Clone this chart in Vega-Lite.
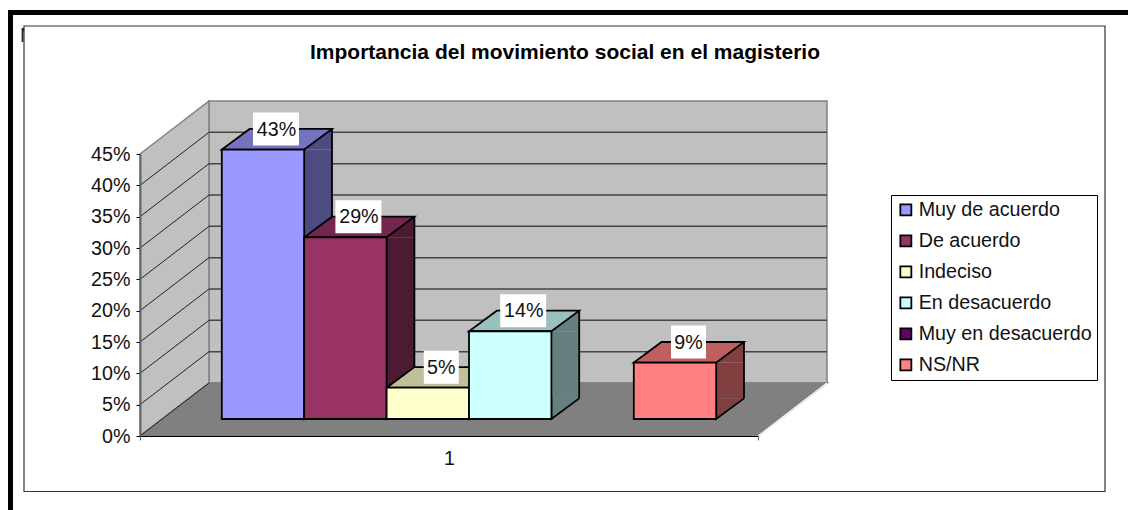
{
"$schema":"https://vega.github.io/schema/vega-lite/v6.json",
"width":618,"height":282,
"autosize":{"type":"none"},
"padding":{"left":140,"top":154,"right":370,"bottom":74},
"background":"white",
"view":{"stroke":null},
"title":{"text":"Importancia del movimiento social en el magisterio","font":"Liberation Sans","fontSize":21,"fontWeight":"bold","color":"#000","anchor":"middle","frame":"group","dx":116,"offset":-53},
"config":{"font":"Liberation Sans"},
"datasets":{
"barras":[
{"serie":"Muy de acuerdo","valor":0.43},
{"serie":"De acuerdo","valor":0.29},
{"serie":"Indeciso","valor":0.05},
{"serie":"En desacuerdo","valor":0.14},
{"serie":"Muy en desacuerdo","valor":0},
{"serie":"NS/NR","valor":0.09}],
"planos":[
{"plano":"fondo","x":0.8374,"y":0.0846,"y2":0.5346},
{"plano":"fondo","x":8.3374,"y":0.0846,"y2":0.5346},
{"plano":"lateral","x":0,"y":0,"y2":0.45},
{"plano":"lateral","x":0.8374,"y":0.0846,"y2":0.5346},
{"plano":"suelo","x":0,"y":0,"y2":0},
{"plano":"suelo","x":0.8374,"y":0,"y2":0.0846},
{"plano":"suelo","x":7.5,"y":0,"y2":0.0846},
{"plano":"suelo","x":8.3374,"y":0.0846,"y2":0.0846}],
"rejilla":[{"pct":0},{"pct":0.05},{"pct":0.1},{"pct":0.15},{"pct":0.2},{"pct":0.25},{"pct":0.3},{"pct":0.35},{"pct":0.4}]
},
"resolve":{"scale":{"x":"independent","fill":"independent"},"axis":{"x":"independent","y":"independent"}},
"layer":[
{"data":{"values":[{"marco":"exterior"}]},"mark":{"type":"rect","fill":"white","stroke":"#000","strokeWidth":5},
 "encoding":{"x":{"value":-129.5},"x2":{"value":1060},"y":{"value":-141.5},"y2":{"value":420}}},
{"data":{"values":[{"letra":"M"}]},"mark":{"type":"text","align":"left","baseline":"alphabetic","fontSize":19.7,"color":"#222"},
 "encoding":{"x":{"value":-120},"y":{"value":-112},"text":{"field":"letra"}}},
{"data":{"values":[{"marco":"interior"}]},"mark":{"type":"rect","fill":"white","stroke":"#333","strokeWidth":1.2},
 "encoding":{"x":{"value":-116},"x2":{"value":965},"y":{"value":-128},"y2":{"value":337.5}}},
{"data":{"name":"planos"},"mark":{"type":"area","stroke":"#808080","strokeWidth":1.5,"opacity":1},
 "encoding":{
  "x":{"field":"x","type":"quantitative","scale":{"domain":[0,7.5],"nice":false,"zero":false},
   "axis":{"values":[0,7.5],"labels":false,"grid":false,"ticks":true,"tickSize":4,"tickColor":"#666","domainColor":"#000","domainWidth":1.2,"title":"1","titleFont":"Liberation Sans","titleFontSize":19.7,"titleFontWeight":"normal","titleColor":"#111","titlePadding":8,"zindex":1}},
  "y":{"field":"y","type":"quantitative","scale":{"domain":[0,0.45],"nice":false},
   "axis":{"values":[0,0.05,0.1,0.15,0.2,0.25,0.3,0.35,0.4,0.45],"format":".0%","grid":false,"title":null,"domainColor":"#666","domainWidth":2,"tickColor":"#000","tickSize":4,"labelPadding":6,"labelFont":"Liberation Sans","labelFontSize":19.7,"labelColor":"#111","zindex":1}},
  "y2":{"field":"y2"},
  "fill":{"field":"plano","type":"nominal","scale":{"domain":["fondo","lateral","suelo"],"range":["#c0c0c0","#c0c0c0","#808080"]},"legend":null},
  "detail":{"field":"plano"}
 }},
{"data":{"values":[{"borde":"suelo"}]},"mark":{"type":"rule","color":"#ffffff","strokeWidth":1.2},
 "encoding":{
  "x":{"datum":7.5,"type":"quantitative","scale":{"domain":[0,7.5],"nice":false,"zero":false},"axis":null},
  "x2":{"datum":8.3374},
  "y":{"datum":0,"type":"quantitative","scale":{"domain":[0,0.45],"nice":false},"axis":null},
  "y2":{"datum":0.0846}
 }},
{"data":{"name":"rejilla"},"mark":{"type":"rule","color":"#222","strokeWidth":1,"y2Offset":-53},
 "encoding":{
  "x":{"datum":0,"type":"quantitative","scale":{"domain":[0,7.5],"nice":false,"zero":false},"axis":null},
  "x2":{"datum":0.8374},
  "y":{"field":"pct","type":"quantitative","scale":{"domain":[0,0.45],"nice":false},"axis":null},
  "y2":{"field":"pct"}
 }},
{"data":{"name":"rejilla"},"transform":[{"filter":"datum.pct>0"}],"mark":{"type":"rule","color":"#444","strokeWidth":1.5,"yOffset":-53},
 "encoding":{
  "x":{"datum":0.8374,"type":"quantitative","scale":{"domain":[0,7.5],"nice":false,"zero":false},"axis":null},
  "x2":{"datum":8.3374},
  "y":{"field":"pct","type":"quantitative","scale":{"domain":[0,0.45],"nice":false},"axis":null}
 }},
{"data":{"name":"barras"},"transform":[{"filter":"datum.valor>0"}],"mark":{"type":"bar","width":27.8,"xOffset":75.1,"yOffset":-17,"y2Offset":-37.6},
 "encoding":{
  "x":{"field":"serie","type":"nominal","sort":null,"axis":null,"scale":{"type":"band","domain":["Muy de acuerdo","De acuerdo","Indeciso","En desacuerdo","Muy en desacuerdo","NS/NR"],"paddingInner":0,"paddingOuter":0.75}},
  "y":{"field":"valor","type":"quantitative","scale":{"domain":[0,0.45],"nice":false},"axis":null},
  "y2":{"datum":0},
  "fill":{"field":"serie","type":"nominal","sort":null,"legend":null,"scale":{"domain":["Muy de acuerdo","De acuerdo","Indeciso","En desacuerdo","Muy en desacuerdo","NS/NR"],"range":["#4c4c80","#4d1a33","#808066","#668080","#330033","#804040"]}}
 }},
{"data":{"name":"barras"},"transform":[{"filter":"datum.valor>0"}],"mark":{"type":"point","filled":true,"opacity":1,"size":4,"shape":"M61.2-17L89-37.6L89-17Z"},
 "encoding":{
  "x":{"field":"serie","type":"nominal","sort":null,"axis":null,"scale":{"type":"band","domain":["Muy de acuerdo","De acuerdo","Indeciso","En desacuerdo","Muy en desacuerdo","NS/NR"],"paddingInner":0,"paddingOuter":0.75}},
  "y":{"field":"valor","type":"quantitative","scale":{"domain":[0,0.45],"nice":false},"axis":null},
  "fill":{"field":"serie","type":"nominal","sort":null,"legend":null,"scale":{"domain":["Muy de acuerdo","De acuerdo","Indeciso","En desacuerdo","Muy en desacuerdo","NS/NR"],"range":["#4c4c80","#4d1a33","#808066","#668080","#330033","#804040"]}}
 }},
{"data":{"name":"barras"},"transform":[{"filter":"datum.valor>0"}],"mark":{"type":"point","filled":true,"opacity":1,"size":4,"stroke":"#000","strokeWidth":1.8,"shape":"M61.2-37.6L61.2-17L89-37.6"},
 "encoding":{
  "x":{"field":"serie","type":"nominal","sort":null,"axis":null,"scale":{"type":"band","domain":["Muy de acuerdo","De acuerdo","Indeciso","En desacuerdo","Muy en desacuerdo","NS/NR"],"paddingInner":0,"paddingOuter":0.75}},
  "y":{"datum":0,"type":"quantitative","scale":{"domain":[0,0.45],"nice":false},"axis":null},
  "fill":{"field":"serie","type":"nominal","sort":null,"legend":null,"scale":{"domain":["Muy de acuerdo","De acuerdo","Indeciso","En desacuerdo","Muy en desacuerdo","NS/NR"],"range":["#4c4c80","#4d1a33","#808066","#668080","#330033","#804040"]}}
 }},
{"data":{"name":"barras"},"transform":[{"filter":"datum.valor>0"}],"mark":{"type":"rule","color":"#000","strokeWidth":1.8,"xOffset":89,"yOffset":-37.6,"y2Offset":-37.6},
 "encoding":{
  "x":{"field":"serie","type":"nominal","sort":null,"axis":null,"scale":{"type":"band","domain":["Muy de acuerdo","De acuerdo","Indeciso","En desacuerdo","Muy en desacuerdo","NS/NR"],"paddingInner":0,"paddingOuter":0.75}},
  "y":{"field":"valor","type":"quantitative","scale":{"domain":[0,0.45],"nice":false},"axis":null},
  "y2":{"datum":0}
 }},
{"data":{"name":"barras"},"transform":[{"filter":"datum.valor>0"}],"mark":{"type":"point","filled":true,"opacity":1,"size":4,"stroke":"#000","strokeWidth":1.8,"shape":"M-21.2-17L61.2-17L89-37.6L6.6-37.6Z"},
 "encoding":{
  "x":{"field":"serie","type":"nominal","sort":null,"axis":null,"scale":{"type":"band","domain":["Muy de acuerdo","De acuerdo","Indeciso","En desacuerdo","Muy en desacuerdo","NS/NR"],"paddingInner":0,"paddingOuter":0.75}},
  "y":{"field":"valor","type":"quantitative","scale":{"domain":[0,0.45],"nice":false},"axis":null},
  "fill":{"field":"serie","type":"nominal","sort":null,"legend":null,"scale":{"domain":["Muy de acuerdo","De acuerdo","Indeciso","En desacuerdo","Muy en desacuerdo","NS/NR"],"range":["#7373bf","#732650","#bfbf99","#99bfbf","#4d004d","#bf6060"]}}
 }},
{"data":{"name":"barras"},"mark":{"type":"bar","stroke":"#000","strokeWidth":1.8,"xOffset":20,"yOffset":-17,"y2Offset":-17,"opacity":1},
 "transform":[{"filter":"datum.valor>0"}],
 "encoding":{
  "x":{"field":"serie","type":"nominal","sort":null,"axis":null,"scale":{"type":"band","domain":["Muy de acuerdo","De acuerdo","Indeciso","En desacuerdo","Muy en desacuerdo","NS/NR"],"paddingInner":0,"paddingOuter":0.75}},
  "y":{"field":"valor","type":"quantitative","scale":{"domain":[0,0.45],"nice":false},"axis":null},
  "y2":{"datum":0},
  "fill":{"field":"serie","type":"nominal","sort":null,"scale":{"domain":["Muy de acuerdo","De acuerdo","Indeciso","En desacuerdo","Muy en desacuerdo","NS/NR"],"range":["#9999ff","#993366","#ffffcc","#ccffff","#660066","#ff8080"]},
   "legend":{"title":null,"orient":"none","legendX":751,"legendY":41,"symbolType":"square","symbolSize":121,"symbolStrokeColor":"#000","symbolStrokeWidth":1.8,"symbolOpacity":1,"labelFont":"Liberation Sans","labelFontSize":19.7,"labelColor":"#111","labelOffset":3,"rowPadding":10,"padding":5,"strokeColor":"#000","fillColor":"white","labelLimit":300}}
 }},
{"data":{"name":"barras"},"transform":[{"filter":"datum.valor>0"}],"mark":{"type":"point","filled":true,"opacity":1,"size":4,"fill":"white","strokeWidth":0},
 "encoding":{
  "x":{"field":"serie","type":"nominal","sort":null,"axis":null,"scale":{"type":"band","domain":["Muy de acuerdo","De acuerdo","Indeciso","En desacuerdo","Muy en desacuerdo","NS/NR"],"paddingInner":0,"paddingOuter":0.75}},
  "y":{"field":"valor","type":"quantitative","scale":{"domain":[0,0.45],"nice":false},"axis":null},
  "shape":{"condition":{"test":"datum.valor>=0.1","value":"M10-54H56V-21H10Z"},"value":"M16-54H51V-21H16Z"}
 }},
{"data":{"name":"barras"},"transform":[{"filter":"datum.valor>0"}],"mark":{"type":"text","fontSize":19.7,"color":"#111","align":"center","baseline":"middle","xOffset":33.5,"yOffset":-37},
 "encoding":{
  "x":{"field":"serie","type":"nominal","sort":null,"axis":null,"scale":{"type":"band","domain":["Muy de acuerdo","De acuerdo","Indeciso","En desacuerdo","Muy en desacuerdo","NS/NR"],"paddingInner":0,"paddingOuter":0.75}},
  "y":{"field":"valor","type":"quantitative","scale":{"domain":[0,0.45],"nice":false},"axis":null},
  "text":{"field":"valor","type":"quantitative","format":".0%"}
 }}
]
}
